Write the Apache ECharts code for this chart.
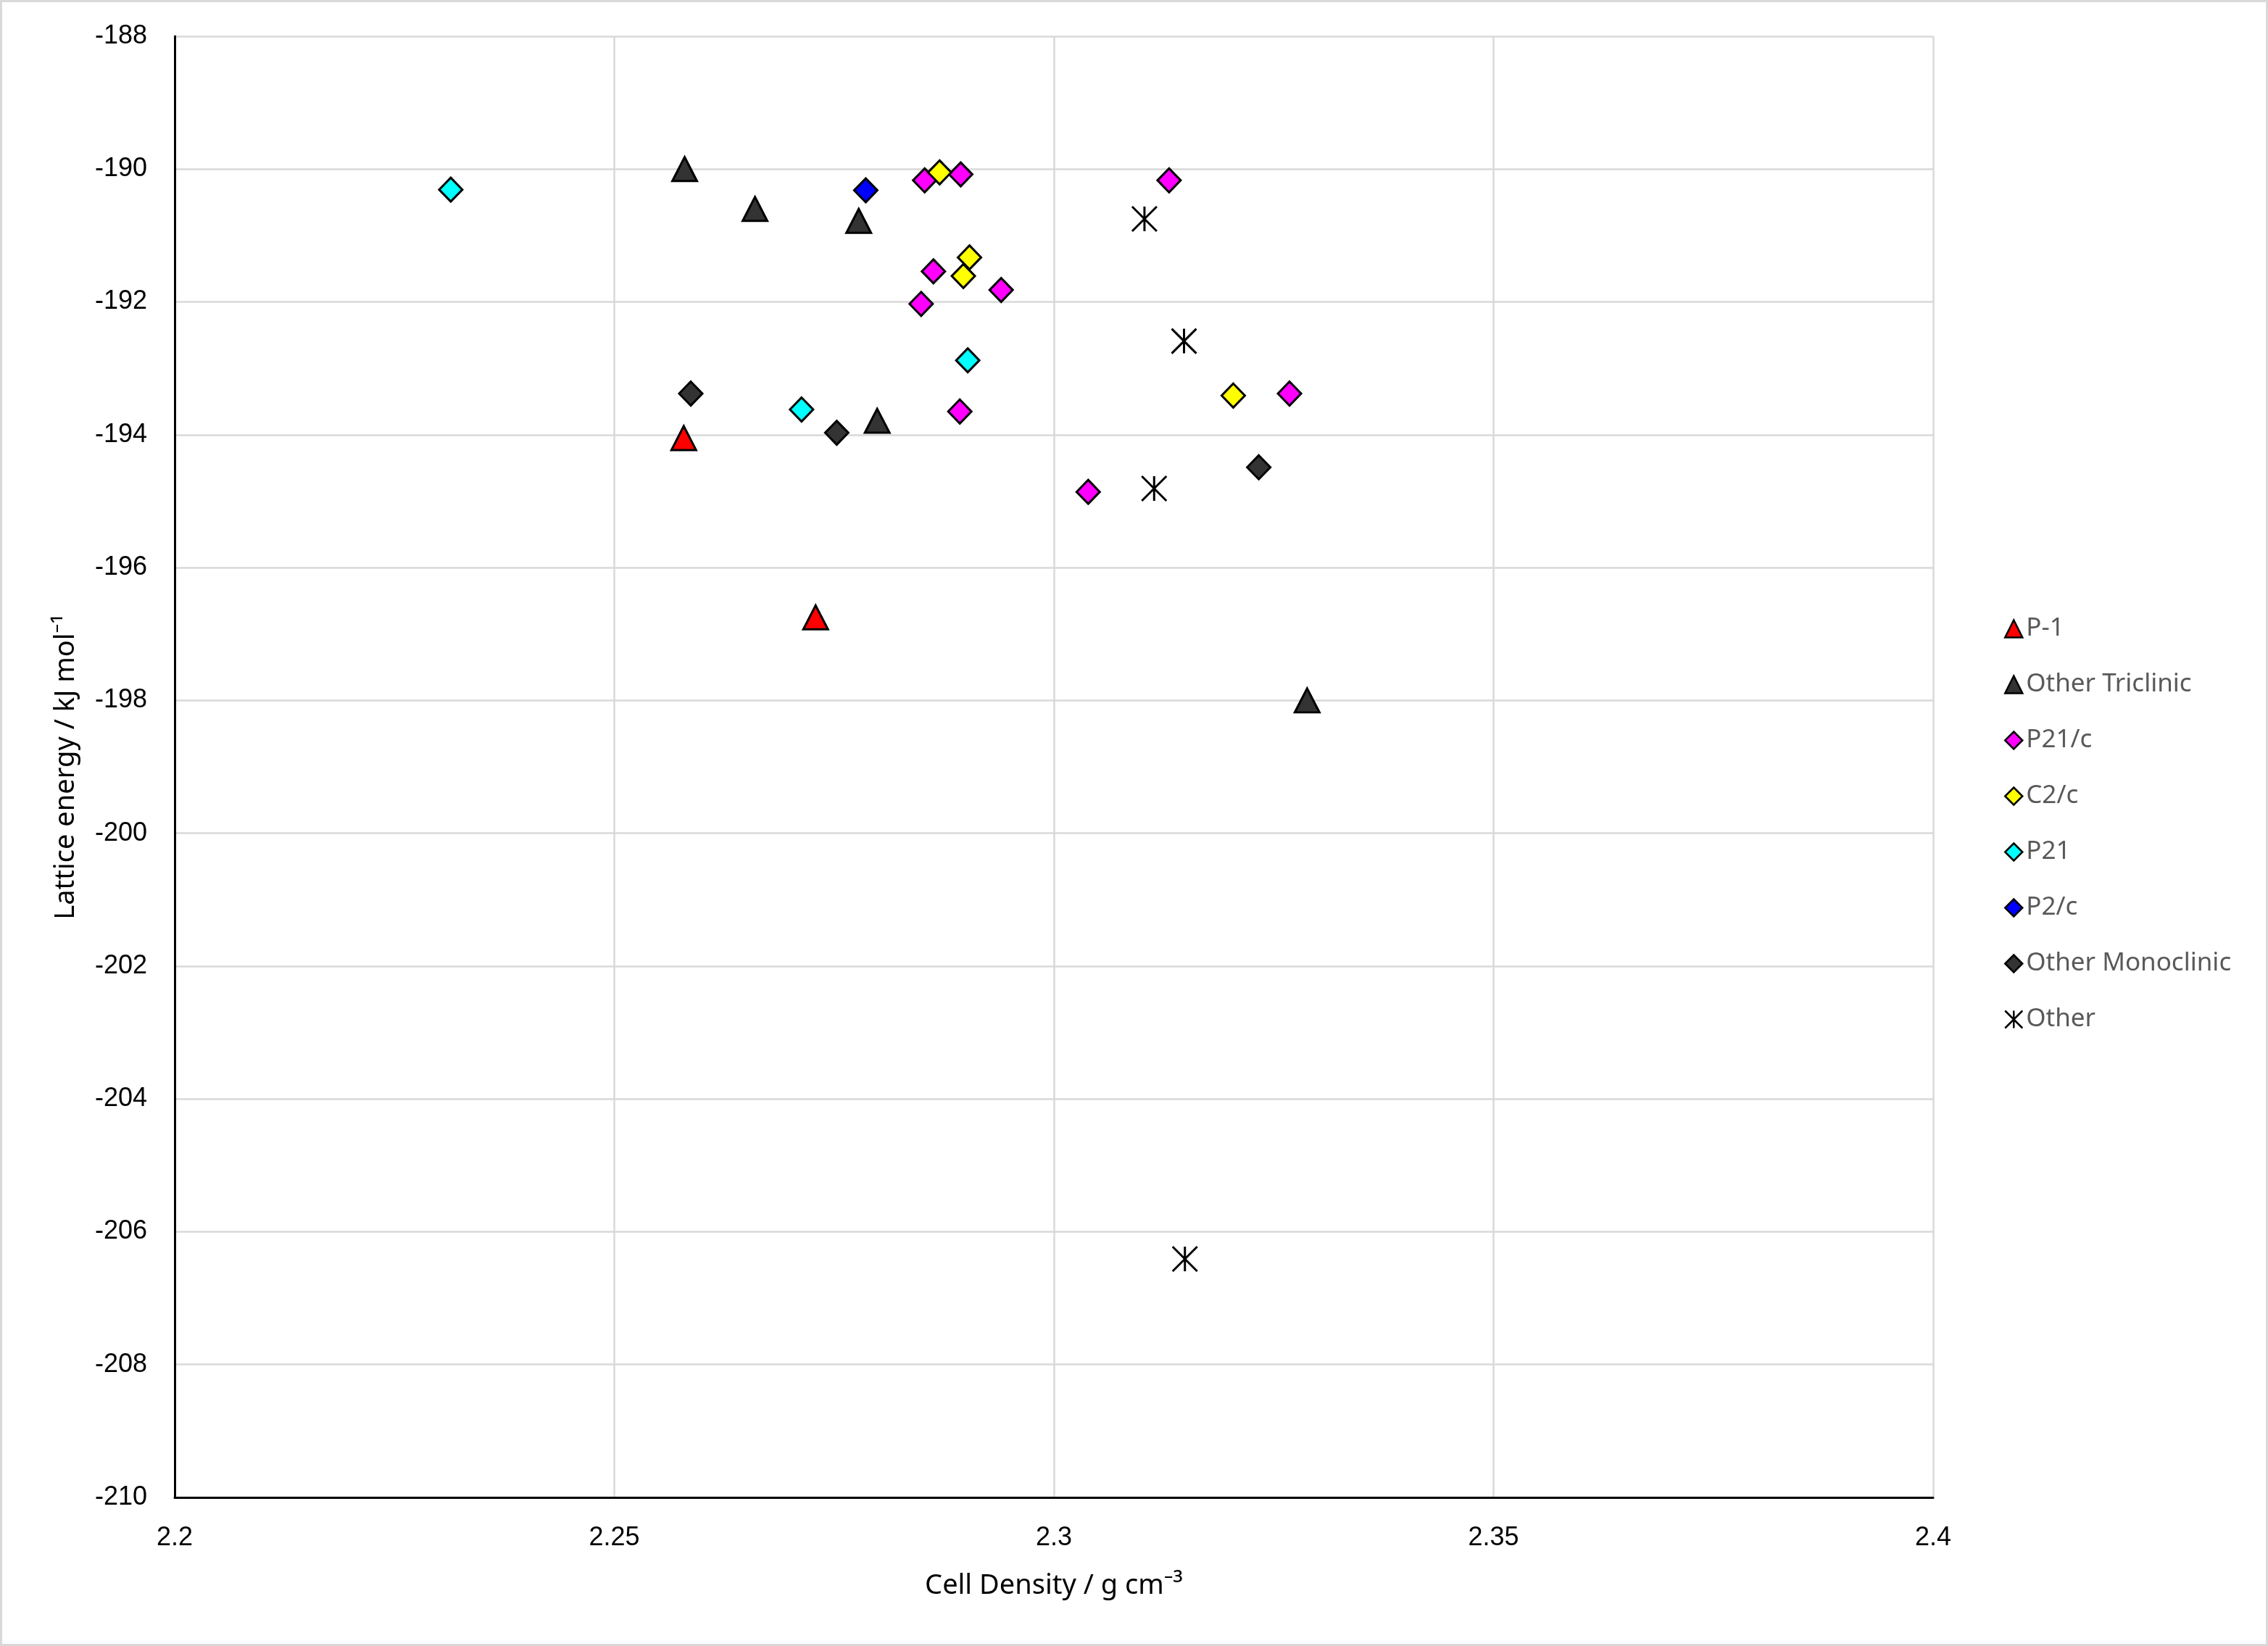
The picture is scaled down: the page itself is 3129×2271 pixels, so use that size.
<!DOCTYPE html>
<html>
	<head>
		<meta charset="utf-8" />
		<title>Lattice energy vs cell density</title>
		<script src="https://cdn.jsdelivr.net/npm/echarts@6/dist/echarts.min.js"></script>
		<style>
			html, body {
				margin: 0;
				padding: 0;
				background: #fff;
			}
			.chart-box {
				width: 3129px;
				height: 2271px;
				box-sizing: border-box;
				border: 3px solid #d9d9d9;
				background: #fff;
			}
			#scatterChart {
				width: 100%;
				height: 100%;
			}
		</style>
	</head>
	<body>
		<div class="chart-box">
			<div id="scatterChart"></div>
		</div>
		<script>
			// axis ticks
			var xTicks = [2.2, 2.25, 2.3, 2.35, 2.4];
			var yTicks = [-210, -208, -206, -204, -202, -200, -198, -196, -194, -192, -190, -188];

			// [cell density, lattice energy] per space group
			var p1Data = [[2.2579, -194.05], [2.2729, -196.75]];
			var otherTriclinicData = [[2.2580, -190.0], [2.2660, -190.60], [2.2778, -190.78], [2.2799, -193.79], [2.3288, -198.0]];
			var p21cData = [[2.2853, -190.17], [2.2894, -190.08], [2.2863, -191.54], [2.2849, -192.03], [2.2940, -191.82],
				[2.2893, -193.65], [2.3039, -194.86], [2.3131, -190.17], [2.3268, -193.38]];
			var c2cData = [[2.2870, -190.05], [2.2904, -191.33], [2.2897, -191.61], [2.3204, -193.41]];
			var p21Data = [[2.2314, -190.31], [2.2713, -193.62], [2.2902, -192.88]];
			var p2cData = [[2.2786, -190.32]];
			var otherMonoclinicData = [[2.2587, -193.38], [2.2753, -193.97], [2.3233, -194.49]];
			var otherData = [[2.3103, -190.75], [2.3148, -192.59], [2.3114, -194.81], [2.3149, -206.41]];

			var seriesNames = ['P-1', 'Other Triclinic', 'P21/c', 'C2/c', 'P21', 'P2/c', 'Other Monoclinic', 'Other'];
			var seriesColors = ['#ff0000', '#333333', '#ff00ff', '#ffff00', '#00ffff', '#0000ff', '#333333', 'transparent'];
			var seriesData = [p1Data, otherTriclinicData, p21cData, c2cData, p21Data, p2cData, otherMonoclinicData, otherData];

			var starPath = 'path://M0,0L10,10M10,0L0,10M5,0L5,10';

			function symbolFor(i) {
				if (i < 2) return 'triangle';
				if (i == 7) return starPath;
				return 'diamond';
			}

			function sizeFor(i) {
				if (i < 2) return [34, 33];
				if (i == 7) return [34, 34];
				return [32, 33];
			}

			var series = [];
			for (var i = 0; i < seriesNames.length; i++) {
				series.push({
					name: seriesNames[i],
					type: 'scatter',
					data: seriesData[i],
					symbol: symbolFor(i),
					symbolSize: sizeFor(i),
					itemStyle: {
						color: seriesColors[i],
						borderColor: '#000',
						borderWidth: 3,
						opacity: 1
					},
					emphasis: { disabled: true }
				});
			}

			var scatterChart = echarts.init(document.getElementById('scatterChart'));

			var option = {
				animation: false,
				backgroundColor: '#fff',
				grid: {
					left: 238,
					top: 47,
					right: 459,
					bottom: 202,
					containLabel: false
				},
				legend: {
					orient: 'vertical',
					left: 2757,
					top: 842,
					itemWidth: 24,
					itemHeight: 24,
					itemGap: 42,
					data: seriesNames,
					itemStyle: { borderWidth: 2.5, borderColor: '#000' },
					textStyle: {
						color: '#595959',
						fontSize: 35,
						fontFamily: 'Noto Sans',
						padding: [0, 0, 0, 0]
					}
				},
				xAxis: {
					type: 'value',
					min: xTicks[0],
					max: xTicks[xTicks.length - 1],
					interval: 0.05,
					name: 'Cell Density / g cm\u207B\u00B3',
					nameLocation: 'middle',
					nameGap: 103,
					nameTextStyle: {
						color: '#000',
						fontSize: 38,
						fontFamily: 'Noto Sans'
					},
					axisLine: { show: true, onZero: false, lineStyle: { color: '#000', width: 3 } },
					axisTick: { show: false },
					axisLabel: {
						color: '#000',
						fontSize: 36,
						fontFamily: 'Liberation Sans',
						margin: 38
					},
					splitLine: { show: true, lineStyle: { color: '#d9d9d9', width: 2.5 } }
				},
				yAxis: {
					type: 'value',
					min: yTicks[0],
					max: yTicks[yTicks.length - 1],
					interval: 2,
					name: 'Lattice energy / kJ mol\u207B\u00B9',
					nameLocation: 'middle',
					nameGap: 131,
					nameTextStyle: {
						color: '#000',
						fontSize: 38,
						fontFamily: 'Noto Sans'
					},
					axisLine: { show: true, onZero: false, lineStyle: { color: '#000', width: 3 } },
					axisTick: { show: false },
					axisLabel: {
						color: '#000',
						fontSize: 36,
						fontFamily: 'Liberation Sans',
						margin: 38
					},
					splitLine: { show: true, lineStyle: { color: '#d9d9d9', width: 2.5 } }
				},
				series: series
			};

			scatterChart.setOption(option);
		</script>
	</body>
</html>
